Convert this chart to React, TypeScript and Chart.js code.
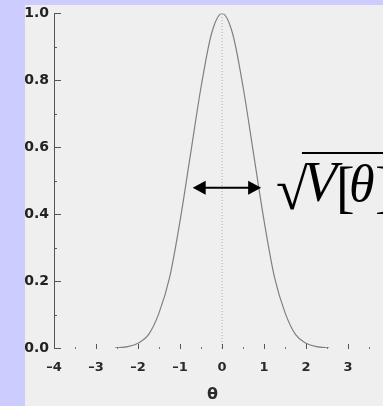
import React, { useEffect, useRef } from "react";
import { Chart, registerables } from "chart.js";

Chart.register(...registerables);

// Curve
const thetaValues = [-2.55, -2.25, -2.0, -1.75, -1.5, -1.25, -1.0, -0.75, -0.5, -0.25, 0, 0.25, 0.5, 0.75, 1.0, 1.25, 1.5, 1.75, 2.0, 2.25, 2.55];
const densityValues = [0, 0.004, 0.014, 0.04, 0.105, 0.21, 0.38, 0.58, 0.78, 0.94, 1.0, 0.94, 0.78, 0.58, 0.38, 0.21, 0.105, 0.04, 0.014, 0.004, 0];

// Dotted mean line
const meanLineX = [0, 0];
const meanLineY = [0, 1];

// Axis ticks
const xMajorTicks = [-4, -3, -2, -1, 0, 1, 2, 3];
const xMinorTicks = [-3.5, -2.5, -1.5, -0.5, 0.5, 1.5, 2.5, 3.5];
const yMajorTicks = [0, 0.2, 0.4, 0.6, 0.8, 1.0];
const yMinorTicks = [0.1, 0.3, 0.5, 0.7, 0.9];
const xMin = -4;
const xMax = 3.83;
const xTitle = "\u03B8";

// Width arrow annotation
const arrowY = 0.479;
const arrowFrom = -0.7;
const arrowTo = 0.93;
// Annotation text anchor (data coords)
const labelTheta = 1.33;
const labelY = 0.439;

export default function App() {
  const ref = useRef<HTMLCanvasElement>(null);

  useEffect(() => {
    const canvas = ref.current!;
    const bgPlugin = {
      id: "bg",
      beforeDraw(chart: any) {
        const ctx = chart.ctx;
        ctx.save();
        ctx.fillStyle = "#efefef";
        ctx.fillRect(0, 0, chart.width, chart.height);
        ctx.restore();
      },
      afterDraw(chart: any) {
        const ctx = chart.ctx;
        const xs = chart.scales.x;
        const ys = chart.scales.y;
        const bottom = ys.getPixelForValue(0);
        const left = xs.getPixelForValue(xMin);
        ctx.save();
        // x ticks
        ctx.strokeStyle = "#555";
        ctx.lineWidth = 1;
        xMajorTicks.forEach((v) => {
          const px = Math.round(xs.getPixelForValue(v)) + 0.5;
          ctx.beginPath();
          ctx.moveTo(px, bottom - 4);
          ctx.lineTo(px, bottom + 1);
          ctx.stroke();
        });
        ctx.strokeStyle = "#777";
        xMinorTicks.forEach((v) => {
          const px = Math.round(xs.getPixelForValue(v)) + 0.5;
          ctx.beginPath();
          ctx.moveTo(px, bottom - 1);
          ctx.lineTo(px, bottom + 1);
          ctx.stroke();
        });
        // y ticks
        ctx.strokeStyle = "#555";
        yMajorTicks.forEach((v) => {
          const py = Math.round(ys.getPixelForValue(v)) + 0.5;
          ctx.beginPath();
          ctx.moveTo(left, py);
          ctx.lineTo(left + 7, py);
          ctx.stroke();
        });
        yMinorTicks.forEach((v) => {
          const py = Math.round(ys.getPixelForValue(v)) + 0.5;
          ctx.beginPath();
          ctx.moveTo(left, py);
          ctx.lineTo(left + 3, py);
          ctx.stroke();
        });
        // x axis title
        ctx.fillStyle = "#2a2a2a";
        ctx.font = "bold 16px 'DejaVu Sans'";
        ctx.textAlign = "center";
        ctx.textBaseline = "middle";
        ctx.fillText(xTitle, (xs.left + xs.right) / 2 - 6, 395);
        // arrow
        const ay = ys.getPixelForValue(arrowY);
        const ax1 = xs.getPixelForValue(arrowFrom);
        const ax2 = xs.getPixelForValue(arrowTo);
        const hl = 13;
        const hw = 7;
        ctx.strokeStyle = "#000";
        ctx.fillStyle = "#000";
        ctx.lineWidth = 2;
        ctx.beginPath();
        ctx.moveTo(ax1 + hl - 2, ay);
        ctx.lineTo(ax2 - hl + 2, ay);
        ctx.stroke();
        ctx.beginPath();
        ctx.moveTo(ax1, ay);
        ctx.lineTo(ax1 + hl, ay - hw);
        ctx.lineTo(ax1 + hl, ay + hw);
        ctx.closePath();
        ctx.fill();
        ctx.beginPath();
        ctx.moveTo(ax2, ay);
        ctx.lineTo(ax2 - hl, ay - hw);
        ctx.lineTo(ax2 - hl, ay + hw);
        ctx.closePath();
        ctx.fill();
        // sqrt(V[theta]) text
        const tx = xs.getPixelForValue(labelTheta);
        const ty = ys.getPixelForValue(labelY);
        ctx.textBaseline = "alphabetic";
        ctx.textAlign = "left";
        ctx.font = "58px 'Liberation Serif'";
        ctx.fillText("\u221A", tx - 2, ty + 8);
        ctx.lineWidth = 2;
        ctx.beginPath();
        ctx.moveTo(tx + 24, ty - 48);
        ctx.lineTo(400, ty - 48);
        ctx.stroke();
        ctx.font = "italic 56px 'Liberation Serif'";
        ctx.fillText("V", tx + 25, ty);
        ctx.font = "56px 'Liberation Serif'";
        ctx.fillText("[", tx + 58, ty + 5);
        ctx.font = "italic 52px 'Liberation Serif'";
        ctx.fillText("\u03B8", tx + 71, ty);
        ctx.font = "56px 'Liberation Serif'";
        ctx.fillText("]", tx + 97, ty + 5);
        // lavender frame
        ctx.fillStyle = "#ccccff";
        ctx.fillRect(0, 0, 25, chart.height);
        ctx.fillRect(0, 0, chart.width, 5);
        ctx.restore();
      },
    };

    const chart = new Chart(canvas, {
      type: "scatter",
      data: {
        datasets: [
          {
            data: thetaValues.map((x, i) => ({ x, y: densityValues[i] })),
            showLine: true,
            borderColor: "#808080",
            borderWidth: 1.2,
            pointRadius: 0,
            cubicInterpolationMode: "monotone",
          },
          {
            data: meanLineX.map((x, i) => ({ x, y: meanLineY[i] })),
            showLine: true,
            borderColor: "#aaaaaa",
            borderWidth: 1,
            borderDash: [1, 2],
            pointRadius: 0,
          },
        ],
      },
      options: {
        animation: false,
        responsive: false,
        devicePixelRatio: 1,
        layout: { padding: { top: 13, right: 0, left: 0, bottom: 0 } },
        plugins: { legend: { display: false }, tooltip: { enabled: false } },
        scales: {
          x: {
            type: "linear",
            min: xMin,
            max: xMax,
            afterBuildTicks: (s: any) => {
              s.ticks = xMajorTicks.map((v) => ({ value: v }));
            },
            afterFit: (s: any) => {
              s.height = 58;
            },
            grid: { display: false, drawTicks: false },
            border: { display: false },
            ticks: {
              color: "#2a2a2a",
              font: { family: "'DejaVu Sans'", size: 13, weight: "bold" },
              padding: 12,
              callback: (v: any) => (Number(v) < 0 ? "\u2013" + Math.abs(Number(v)) : String(v)),
            },
            title: { display: false },
          },
          y: {
            type: "linear",
            min: 0,
            max: 1,
            afterBuildTicks: (s: any) => {
              s.ticks = yMajorTicks.map((v) => ({ value: v }));
            },
            afterFit: (s: any) => {
              s.width = 54;
            },
            grid: { display: false, drawTicks: false },
            border: { display: true, color: "#555", width: 1 },
            ticks: {
              color: "#222",
              font: { family: "'DejaVu Sans'", size: 14, weight: "bold" },
              padding: 5,
              callback: (v: any) => Number(v).toFixed(1),
            },
          },
        },
      },
      plugins: [bgPlugin],
    } as any);
    return () => chart.destroy();
  }, []);

  return (
    <div style={{ position: "fixed", left: 0, top: 0, width: 383, height: 406 }}>
      <canvas ref={ref} width={383} height={406} style={{ display: "block" }} />
    </div>
  );
}
